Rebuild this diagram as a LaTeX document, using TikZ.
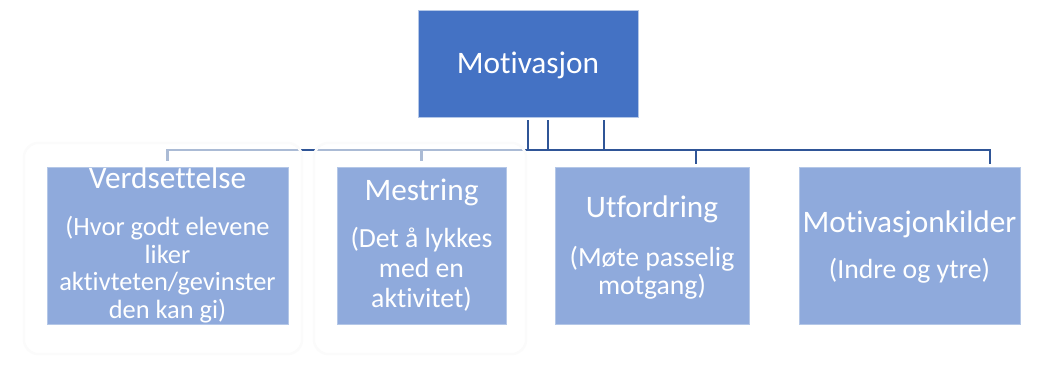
\documentclass[tikz,border=0pt]{standalone}
\usepackage{fontspec}
\setmainfont{Carlito}[Ligatures=NoCommon]
\usetikzlibrary{backgrounds}
\definecolor{topblue}{HTML}{4472C4}
\definecolor{boxblue}{HTML}{8FAADC}
\definecolor{edgeblue}{HTML}{B4C7E7}
\definecolor{linkblue}{HTML}{2F5597}
\newcommand\headfont{\fontsize{31.3}{34}\selectfont}
\newcommand\subfont{\fontsize{27.7}{30}\selectfont}
\newcommand\subfontsmall{\fontsize{26.4}{28}\selectfont}
\begin{document}
\begin{tikzpicture}[x=1pt,y=-1pt,
  box/.style={rectangle, fill=boxblue, draw=edgeblue, line width=0.8pt, inner sep=0pt, minimum height=157pt},
  topbox/.style={rectangle, fill=topblue, draw=edgeblue, line width=0.8pt, inner sep=0pt},
  link/.style={draw=linkblue, line width=2.6pt, line join=miter},
  head/.style={text=white, font=\headfont, anchor=base, inner sep=0pt},
  sub/.style={text=white, font=\subfont, anchor=base, inner sep=0pt},
  subsmall/.style={text=white, font=\subfontsmall, anchor=base, inner sep=0pt},
  glow/.style={fill=white, fill opacity=0.6, draw=black!1.5, draw opacity=1, line width=2.5pt, rounded corners=14pt}]
\useasboundingbox (0,0) rectangle (1049,378);

% top box
\node[topbox, minimum width=220pt, minimum height=107pt] (top) at (528,63.5) {};
\node[head] (toptext) at (528,73) {Motivasjon};

% bottom boxes
\node[box, minimum width=241pt] (b1) at (167.5,245.5) {};
\node[box, minimum width=169pt] (b2) at (421.5,245.5) {};
\node[box, minimum width=194pt] (b3) at (652,245.5) {};
\node[box, minimum width=221pt] (b4) at (909.5,245.5) {};

% texts
\node[head] (h1) at (167.5,188) {Verdsettelse};
\node[subsmall] (s11) at (167.5,235) {(Hvor godt elevene};
\node[subsmall] (s12) at (167.5,263) {liker};
\node[subsmall] (s13) at (167.5,290.5) {aktivteten/gevinster};
\node[subsmall] (s14) at (167.5,318) {den kan gi)};

\node[head] (h2) at (421.5,200) {Mestring};
\node[sub] (s21) at (421.5,247) {(Det å lykkes};
\node[sub] (s22) at (421.5,277) {med en};
\node[sub] (s23) at (421.5,307) {aktivitet)};

\node[head] (h3) at (652,217) {Utfordring};
\node[sub] (s31) at (652,266) {(Møte passelig};
\node[sub] (s32) at (652,294) {motgang)};

\node[head] (h4) at (909.5,232) {Motivasjonkilder};
\node[sub] (s41) at (909.5,278) {(Indre og ytre)};

% connectors and soft glow behind the boxes
\coordinate (busL) at (167.5,150);
\coordinate (busR) at (990,150);
\coordinate (drop3) at (696,150);
\begin{scope}[on background layer]
  \draw[link] ([yshift=-3pt]top.south) -- (top.south |- busL);
  \draw[link] ([xshift=20pt,yshift=-3pt]top.south) -- ++(0,30);
  \draw[link] ([xshift=76pt,yshift=-3pt]top.south) -- ++(0,30);
  \draw[link] ([yshift=6pt]b1.north) -- (busL) -- (busR) -- ([yshift=3pt]b4.north -| busR);
  \draw[link] ([yshift=6pt]b2.north) -- (b2.north |- busL);
  \draw[link] (drop3) -- ([yshift=3pt]b3.north -| drop3);
  \path[glow] (24,143) rectangle (302,354);
  \path[glow] (314,143) rectangle (526,354);
\end{scope}
\end{tikzpicture}
\end{document}
